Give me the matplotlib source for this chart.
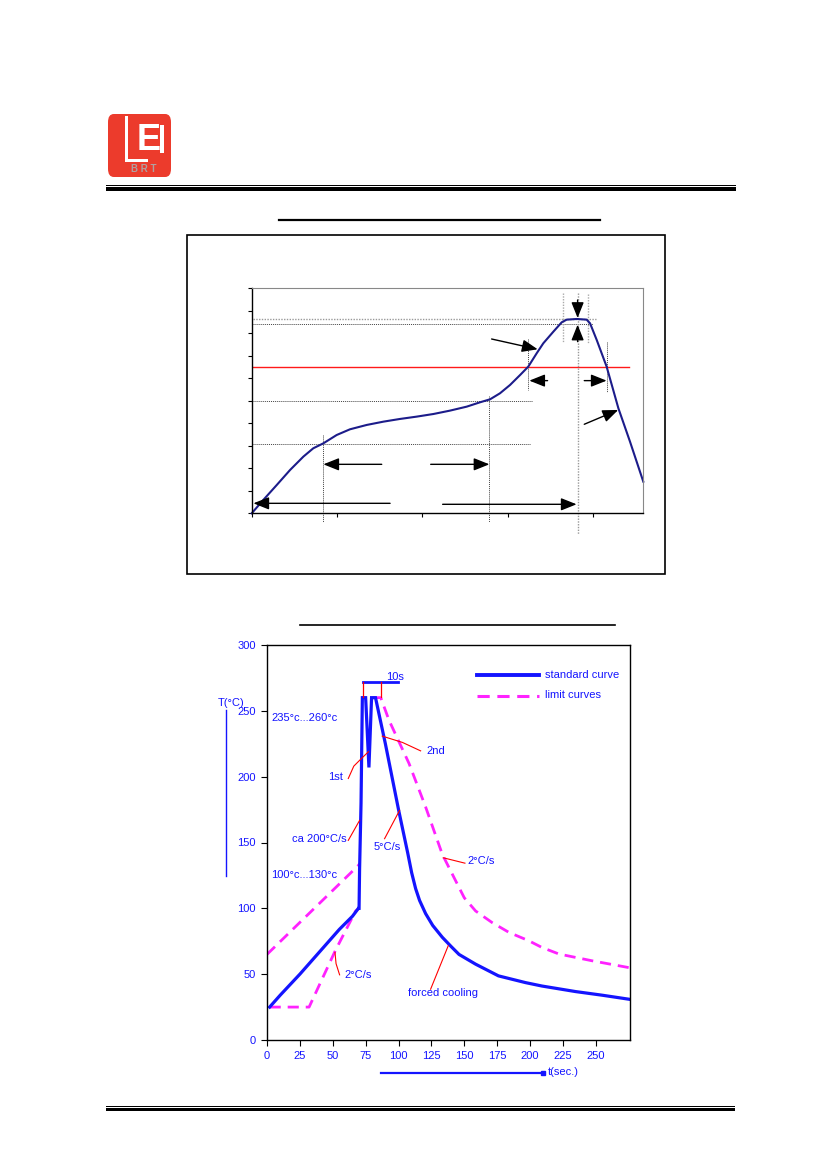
import matplotlib
matplotlib.use("Agg")
import matplotlib.pyplot as plt
from matplotlib.patches import Rectangle, FancyBboxPatch
from matplotlib.lines import Line2D

plt.rcParams['font.family'] = ['Liberation Sans', 'DejaVu Sans']

W, H = 826, 1169

# ---------------- upper chart data (generic reflow profile) ----------------
prof_t = [0, 6.8, 14.7, 22.5, 30.3, 36.1, 42, 49.8, 57.6, 67.4, 77.2, 86.9, 96.7,
          106.5, 116.2, 126, 133.8, 139.7, 145.5, 151.4, 157.3, 162.1, 167, 170.9,
          176.8, 181.7, 184.6, 190.5, 196.3, 198.3, 202.2, 208, 214.9, 221.7, 229.5]
prof_T = [0, 17.8, 37.8, 57.8, 75.6, 86.7, 93.3, 104.4, 112, 117.8, 122.2, 125.8, 128.9,
          132.4, 136.9, 142.2, 148, 152, 160, 171.1, 184.4, 195.6, 213.3, 226.7,
          242.2, 254.7, 258.2, 259.1, 258.2, 253.3, 231.1, 195.6, 140, 95.6, 42.2]
peak_levels = [259.0, 252.4]
liquidus_level = 195.0
preheat_levels = [150.2, 92.0]
upper_xticks = [0, 50, 100, 150, 200]
upper_yticks = [0, 30, 60, 90, 120, 150, 180, 210, 240, 270, 300]

# ---------------- lower chart data (wave soldering profile) ----------------
std_t = [2, 10, 25, 40, 55, 65, 69.5, 70, 70.4, 71.5, 72.5, 75, 77.5, 79.5, 82.5,
         90, 100, 107, 110, 113, 116, 120.6, 126, 133.3, 140, 146, 158.6, 176, 196.5,
         209, 234.5, 255, 275]
std_T = [25, 34, 50, 67, 84, 94, 100, 100, 130, 180, 260, 260, 207, 260, 260,
         225, 175, 142, 127, 115, 106, 96, 87, 78, 71, 65, 57.6, 48.7, 43.6,
         41, 36.8, 34, 31]
lim_hi_pre_t = [0, 69.4, 70.5]
lim_hi_pre_T = [65, 132.5, 134]
lim_lo_pre_t = [2, 32, 52, 67.4, 70]
lim_lo_pre_T = [25, 25, 68, 98, 100]
lim_cool_t = [80, 86.5, 92.7, 108, 120.6, 133.3, 143.4, 150, 158.6, 171, 184, 199,
              209, 222, 247, 275]
lim_cool_T = [260, 260, 243, 210, 177, 141, 121, 108, 98, 89.3, 81.7, 75.4,
              70.3, 65.3, 60.2, 55]
lower_xticks = [0, 25, 50, 75, 100, 125, 150, 175, 200, 225, 250]
lower_yticks = [0, 50, 100, 150, 200, 250, 300]

BLUE = '#1414ff'
MAG = '#ff22ff'


def fx(x):
    return x / W


def fy(y):
    return 1 - y / H


fig = plt.figure(figsize=(W / 100, H / 100), dpi=100)


def rect(x0, y0, x1, y1, color='black', lw=0, fill=True, ec=None):
    fig.patches.append(Rectangle((fx(x0), fy(y1)), (x1 - x0) / W, (y1 - y0) / H,
                                 transform=fig.transFigure, facecolor=color if fill else 'none',
                                 edgecolor=ec if ec else color, lw=lw))


def hline(x0, x1, y, lw=1.0, color='black'):
    fig.lines.append(Line2D([fx(x0), fx(x1)], [fy(y), fy(y)], transform=fig.transFigure,
                            color=color, lw=lw))


# ---------------- page decoration ----------------
logo = FancyBboxPatch((fx(108), fy(177)), 63 / W, 63 / H,
                      boxstyle="round,pad=0,rounding_size=0.007",
                      transform=fig.transFigure, facecolor='#ec3b2c', edgecolor='none')
fig.patches.append(logo)
rect(125, 116, 128, 162, color='white')
rect(128, 159, 148, 162, color='white')
fig.text(fx(149), fy(140), "E", color='white', fontsize=26, fontweight='bold',
         ha='center', va='center', family=['Liberation Sans Narrow', 'Liberation Sans'])
rect(160, 125, 164, 153, color='white')
fig.text(fx(144), fy(169), "B R T", color='#b0a0a0', fontsize=7, fontweight='bold',
         ha='center', va='center')

rect(106, 184.6, 736, 185.8)
rect(106, 187.0, 736, 190.8)
rect(106, 1105.5, 735, 1106.7)
rect(106, 1107.8, 735, 1111.2)

hline(279, 600, 219.5, lw=1.6)
hline(300, 615, 624.5, lw=1.2)

rect(187, 234.5, 665, 574, fill=False, lw=1.2, ec='black')

# ---------------- upper chart ----------------
ax1 = fig.add_axes([fx(251.7), fy(513.3), (643.3 - 251.7) / W, (513.3 - 288.3) / H])
ax1.set_xlim(0, 229.5)
ax1.set_ylim(0, 300)
ax1.set_xticks(upper_xticks)
ax1.set_yticks(upper_yticks)
ax1.set_xticklabels([])
ax1.set_yticklabels([])
ax1.tick_params(direction='out', length=3, width=0.8, color='black')
for s in ['top', 'right']:
    ax1.spines[s].set_color('#888888')
    ax1.spines[s].set_linewidth(0.8)
for s in ['left', 'bottom']:
    ax1.spines[s].set_color('black')
    ax1.spines[s].set_linewidth(1.0)

dot = dict(color='#444444', ls=(0, (1, 1)), lw=0.7)
ax1.plot([1, 201.6], [peak_levels[0]] * 2, color='#999999', ls=(0, (1, 1)), lw=1.0)
ax1.plot([1, 200.2], [peak_levels[1]] * 2, **dot)
ax1.plot([1, 221], [liquidus_level] * 2, color='#ff1a1a', lw=1.0)
ax1.plot([1, 164], [preheat_levels[0]] * 2, **dot)
ax1.plot([1, 163], [preheat_levels[1]] * 2, **dot)
ax1.plot([42, 42], [104.4, -12], clip_on=False, **dot)
ax1.plot([139.3, 139.3], [156, -12], clip_on=False, **dot)
ax1.plot([191, 191], [294, -28], clip_on=False, color='#999999', ls=(0, (1, 1)), lw=1.0)
ax1.plot([182.2, 182.2], [294, 226.7], clip_on=False, color='#aaaaaa', ls=(0, (1, 1)), lw=1.0)
ax1.plot([196.9, 196.9], [292, 226.7], clip_on=False, color='#aaaaaa', ls=(0, (1, 1)), lw=1.0)
ax1.plot([161.7, 161.7], [232, 164.4], **dot)
ax1.plot([208, 208], [229, 162], **dot)

ax1.plot(prof_t, prof_T, color='#1c1c8a', lw=1.5, clip_on=False, solid_joinstyle='round')

arr = dict(arrowstyle='-|>,head_length=0.95,head_width=0.38', color='black', lw=1.0,
           shrinkA=0, shrinkB=0, mutation_scale=10)
arrows = [((191, 284.4), (191, 260.5)), ((191, 228.9), (191, 251.5)),
          ((140.6, 232.4), (167.6, 218.7)), ((173.4, 176.9), (162.7, 176.9)),
          ((194.9, 176.9), (208, 176.9)), ((194.9, 118.7), (214.8, 137.8)),
          ((76.2, 65.3), (42, 65.3)), ((104.9, 65.3), (139.3, 65.3)),
          ((81.1, 13.3), (1, 13.3)), ((111.9, 12), (190.4, 12))]
for (a, b) in arrows:
    ax1.annotate('', xy=b, xytext=a, arrowprops=arr, annotation_clip=False)

# ---------------- lower chart ----------------
ax2 = fig.add_axes([fx(267), fy(1040), (630 - 267) / W, (1040 - 645) / H])
ax2.set_xlim(0, 276)
ax2.set_ylim(0, 300)
ax2.set_xticks(lower_xticks)
ax2.set_yticks(lower_yticks)
ax2.set_xticklabels([str(v) for v in lower_xticks])
ax2.set_yticklabels([str(v) for v in lower_yticks])
ax2.tick_params(direction='out', length=4, width=0.8, color='black',
                labelcolor=BLUE, labelsize=8, pad=4)
for s in ax2.spines.values():
    s.set_color('black')
    s.set_linewidth(1.0)

ax2.plot(lim_hi_pre_t, lim_hi_pre_T, color=MAG, lw=2, ls=(0, (4, 2.5)))
ax2.plot(lim_lo_pre_t, lim_lo_pre_T, color=MAG, lw=2, ls=(0, (4, 2.5)))
ax2.plot(lim_cool_t, lim_cool_T, color=MAG, lw=2, ls=(0, (4, 2.5)))
ax2.plot(std_t, std_T, color=BLUE, lw=2.3, solid_joinstyle='miter')

# 10 s bracket
ax2.plot([73.2, 99.8], [271.7, 271.7], color=BLUE, lw=2)
ax2.plot([73.2, 73.2], [260.5, 271.7], color='red', lw=0.9)
ax2.plot([86.9, 86.9], [260.5, 271.7], color='red', lw=0.9)

# red pointer lines
red = dict(color='red', lw=0.8)
ax2.plot([61.8, 66, 71, 77.2], [198.6, 208, 213, 219], **red)
ax2.plot([87.6, 103, 116.8], [230.8, 226, 219.6], **red)
ax2.plot([61.8, 70.4], [151.6, 166.8], **red)
ax2.plot([89.4, 100.8], [152.9, 174.4], **red)
ax2.plot([134, 150.5], [138.4, 134.3], **red)
ax2.plot([51.7, 52.5, 55.2], [66.5, 58, 49.5], **red)
ax2.plot([137.8, 124.4], [71.6, 38.6], **red)

# legend
hline(476.7, 539.3, 675, lw=2.8, color=BLUE)
fig.lines.append(Line2D([fx(476.7), fx(539.3)], [fy(695.7), fy(695.7)], transform=fig.transFigure,
                        color=MAG, lw=2.2, ls=(0, (4, 2.5))))
tk = dict(color=BLUE, fontsize=8, va='center', ha='left')
fig.text(fx(545), fy(675), "standard curve", **tk)
fig.text(fx(545), fy(695.5), "limit curves", **tk)

# annotations
fig.text(fx(386), fy(677.5), "10s", **tk)
fig.text(fx(218), fy(703), "T(°C)", **tk)
fig.text(fx(271), fy(718), "235°c...260°c", **tk)
fig.text(fx(426), fy(751), "2nd", **tk)
fig.text(fx(328), fy(777.5), "1st", **tk)
fig.text(fx(292), fy(838.5), "ca 200°C/s", **tk)
fig.text(fx(374), fy(847.5), "5°C/s", **tk)
fig.text(fx(467), fy(861), "2°C/s", **tk)
fig.text(fx(271), fy(875), "100°c...130°c", **tk)
fig.text(fx(344), fy(975), "2°C/s", **tk)
fig.text(fx(408), fy(993), "forced cooling", **tk)
fig.text(fx(548), fy(1072), "t(sec.)", **tk)

fig.lines.append(Line2D([fx(226), fx(226)], [fy(710), fy(876)], transform=fig.transFigure,
                        color=BLUE, lw=1.0))
fig.lines.append(Line2D([fx(381), fx(543)], [fy(1072.7), fy(1072.7)], transform=fig.transFigure,
                        color=BLUE, lw=1.6))
fig.lines.append(Line2D([fx(543)], [fy(1072.7)], transform=fig.transFigure,
                        color=BLUE, marker='s', markersize=3.5, lw=0))

fig.savefig("out.png", dpi=100)
